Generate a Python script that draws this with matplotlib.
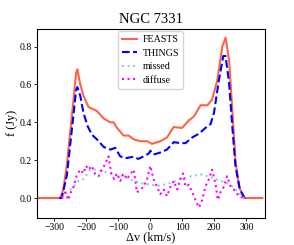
import matplotlib
matplotlib.use("Agg")
import matplotlib.pyplot as plt
import numpy as np

plt.rcParams['font.family'] = ['Liberation Serif', 'DejaVu Serif']

# FEASTS spectrum
v_feasts = [-350, -300, -282, -272, -261, -251, -240, -232, -228, -219, -209, -193, -180,
            -167, -146, -125, -115, -104, -84, -68, -52, -31, -10, 5, 31, 52, 73, 99,
            120, 136, 157, 178, 193, 209, 225, 235, 246, 256, 266, 277, 293, 320, 350]
f_feasts = [0.0, 0.0, 0.0, 0.045, 0.17, 0.34, 0.52, 0.66, 0.68, 0.60, 0.54, 0.48, 0.47,
            0.46, 0.42, 0.40, 0.40, 0.37, 0.33, 0.33, 0.31, 0.30, 0.30, 0.286, 0.30, 0.32, 0.375, 0.37,
            0.41, 0.43, 0.49, 0.49, 0.52, 0.62, 0.80, 0.847, 0.73, 0.47, 0.20, 0.06, 0.0, 0.0, 0.0]

# THINGS spectrum
v_things = [-285, -277, -261, -246, -232, -228, -219, -209, -196, -183, -167, -146, -125,
            -110, -94, -78, -57, -37, -21, -5, 0, 10, 31, 52, 73, 94, 110, 131, 152,
            172, 188, 199, 214, 228, 235, 246, 256, 266, 280, 295]
f_things = [0.0, 0.0, 0.12, 0.35, 0.57, 0.586, 0.54, 0.45, 0.38, 0.335, 0.31, 0.27, 0.256,
            0.265, 0.22, 0.21, 0.217, 0.207, 0.22, 0.235, 0.25, 0.23, 0.24, 0.256, 0.295, 0.29, 0.29, 0.32, 0.34,
            0.37, 0.39, 0.45, 0.62, 0.75, 0.75, 0.61, 0.38, 0.17, 0.045, 0.0]

# missed flux
v_missed = [-275, -261, -240, -225, -209, -188, -167, -146, -115, -84, -52, -31, 0, 31,
            63, 94, 125, 157, 178, 204, 230, 251, 272, 293]
f_missed = [0.0, 0.03, 0.06, 0.09, 0.10, 0.15, 0.15, 0.14, 0.125, 0.115, 0.09, 0.08, 0.07, 0.065,
            0.08, 0.10, 0.115, 0.125, 0.115, 0.10, 0.085, 0.07, 0.035, 0.0]

# diffuse flux
v_diffuse = [-277, -266, -256, -251, -240, -230, -219, -209, -201, -193, -183, -172, -162,
             -151, -141, -131, -122, -113, -104, -94, -84, -73, -63, -52, -42, -31, -21,
             -10, 0, 10, 21, 31, 42, 52, 63, 73, 84, 94, 102, 110, 120, 131, 141, 152,
             162, 172, 183, 193, 204, 211, 219, 230, 240, 251, 261, 277, 293]
f_diffuse = [0.0, 0.03, -0.01, 0.02, 0.06, 0.12, 0.15, 0.13, 0.17, 0.15, 0.17, 0.125, 0.115,
             0.15, 0.18, 0.22, 0.13, 0.10, 0.13, 0.09, 0.13, 0.10, 0.125, 0.15, 0.03, 0.045, 0.06,
             0.10, 0.17, 0.10, 0.06, 0.02, 0.045, 0.01, 0.06, 0.09, 0.045, 0.10, 0.13, 0.06, 0.07, 0.03, -0.01, -0.05,
             -0.01, 0.06, 0.10, 0.15, 0.07, -0.01, 0.03, 0.06, 0.115, 0.06, 0.045, 0.01, 0.0]

fig = plt.figure(figsize=(2.94, 2.45), dpi=100)
ax = fig.add_axes([0.125, 0.112, 0.776, 0.770])

ax.plot(v_feasts, f_feasts, color='tomato', lw=1.5, label='FEASTS')
ax.plot(v_things, f_things, color='blue', lw=1.5, ls='--', label='THINGS')
ax.plot(v_missed, f_missed, color='skyblue', lw=1.5, ls=':', label='missed')
ax.plot(v_diffuse, f_diffuse, color='magenta', lw=1.5, ls=':', label='diffuse')

ax.set_xlim(-355, 358)
ax.set_ylim(-0.103, 0.893)
ax.set_xticks([-300, -200, -100, 0, 100, 200, 300])
ax.set_yticks([0.0, 0.2, 0.4, 0.6, 0.8])
ax.tick_params(labelsize=7, length=2.5, width=0.6, pad=1.2)
for s in ax.spines.values():
    s.set_linewidth(0.8)

ax.set_xlabel('Δv (km/s)', fontsize=8.8, labelpad=0)
ax.set_ylabel('f (Jy)', fontsize=8.8, labelpad=1)
ax.set_title('NGC 7331', fontsize=10.5, pad=4)

ax.legend(loc='upper center', fontsize=7.2, handlelength=1.5, borderpad=0.4,
          labelspacing=0.45, handletextpad=0.55, borderaxespad=0.25)

fig.savefig('out.png', dpi=100)
